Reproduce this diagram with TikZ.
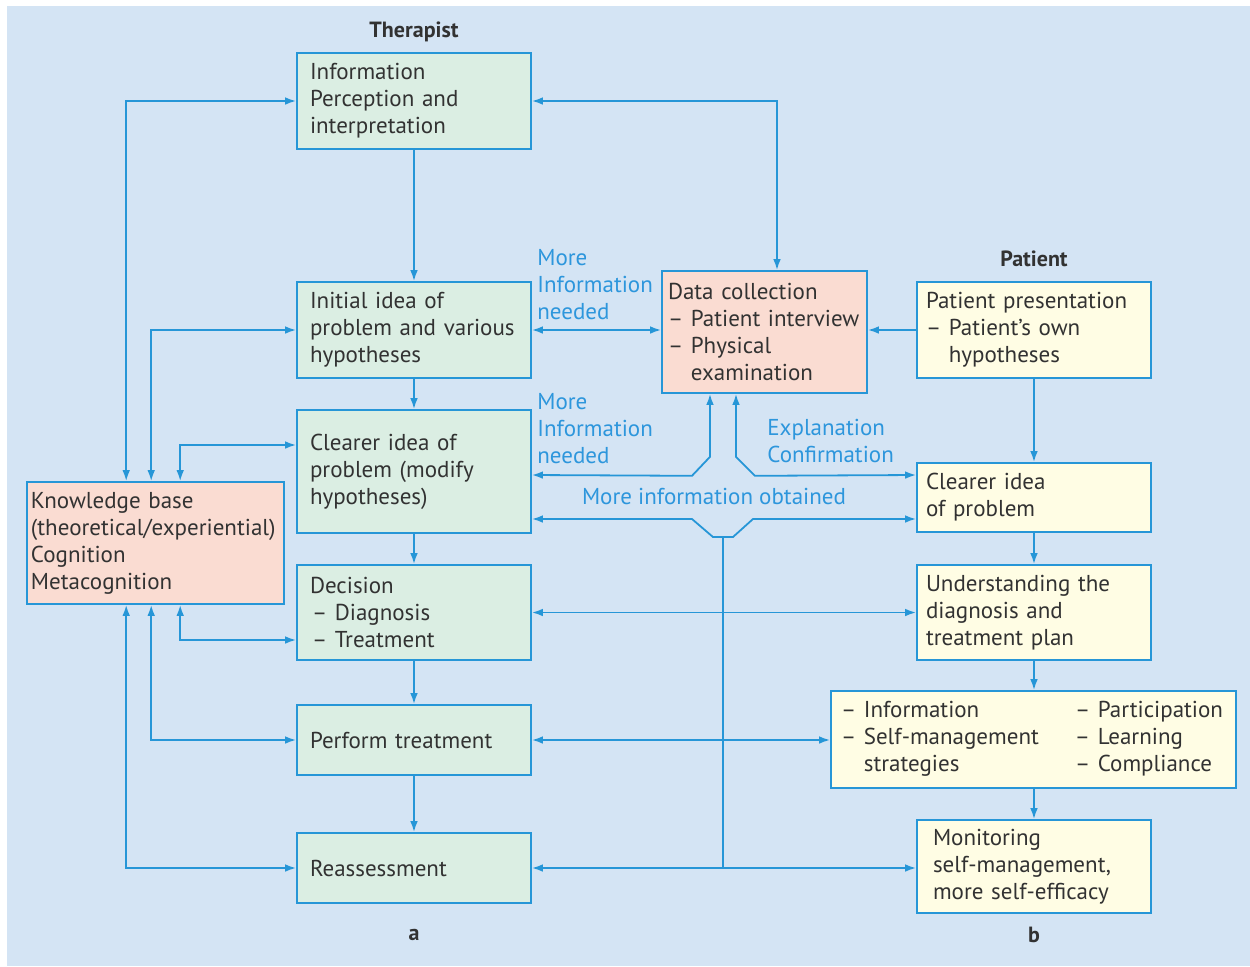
\documentclass[tikz,border=0pt]{standalone}
\usepackage{fontspec}
\setmainfont{PT Sans}
\usepackage{tikz}
\usetikzlibrary{arrows.meta,positioning,calc}

\definecolor{bgblue}{RGB}{212,228,244}
\definecolor{linecol}{RGB}{38,150,215}
\definecolor{lblblue}{RGB}{45,150,220}
\definecolor{thfill}{RGB}{219,238,227}
\definecolor{kbfill}{RGB}{250,220,210}
\definecolor{ptfill}{RGB}{255,253,228}
\definecolor{txtcol}{RGB}{50,50,50}

\begin{document}
\begin{tikzpicture}[x=0.5pt, y=-0.5pt,
  box/.style={rectangle, draw=linecol, line width=0.8pt, align=left, text=txtcol,
    font=\fontsize{11.5}{13.5}\selectfont, inner ysep=2pt},
  thbox/.style={box, fill=thfill, inner xsep=6.5pt, text width=104pt},
  kbbox/.style={box, fill=kbfill},
  ptbox/.style={box, fill=ptfill, inner xsep=4.5pt, text width=108pt},
  lbl/.style={text=lblblue, align=left, inner sep=0pt, font=\fontsize{11.5}{13.5}\selectfont},
  head/.style={text=txtcol, font=\fontsize{11}{13.5}\selectfont\bfseries},
  line/.style={draw=linecol, line width=0.9pt},
  arrow/.style={line, -{Latex[length=5.5pt,width=3.8pt]}},
  biarrow/.style={line, {Latex[length=5.5pt,width=3.8pt]}-{Latex[length=5.5pt,width=3.8pt]}}]

  \useasboundingbox (0,0) rectangle (1250,966);
  \fill[bgblue] (7,6) rectangle (1250,966);

  % therapist column
  \node[head] (ther) at (414,32) {Therapist};
  \node[thbox, minimum height=48pt] (info) at (414,101) {Information\\Perception and\\interpretation};
  \node[thbox, minimum height=48pt] (initial) at (414,330) {Initial idea of\\problem and various\\hypotheses};
  \node[thbox, minimum height=61.5pt] (clearer) at (414,471.5) {Clearer idea of\\problem (modify\\hypotheses)};
  \node[thbox, minimum height=47.5pt] (decision) at (414,612.5) {Decision\\\hspace{1pt}–~Diagnosis\\\hspace{1pt}–~Treatment};
  \node[thbox, minimum height=35pt] (perform) at (414,740) {Perform treatment};
  \node[thbox, minimum height=35pt] (reassess) at (414,868) {Reassessment};
  \node[head] (a) at (414,935) {a};

  \node[kbbox, inner xsep=2pt, text width=124.5pt, minimum height=61pt] (kb) at (155.5,543)
    {Knowledge base\\(theoretical/experiential)\\Cognition\\Metacognition};

  \node[kbbox, inner xsep=3pt, text width=96.5pt, minimum height=61pt] (data) at (764.5,332)
    {Data collection\\\mbox{–~Patient interview}\\–~Physical\\\phantom{–~}examination};

  % patient column
  \node[head] (pat) at (1034,259) {Patient};
  \node[ptbox, minimum height=48pt] (patpres) at (1034,330) {Patient presentation\\–~Patient’s own\\\phantom{–~}hypotheses};
  \node[ptbox, minimum height=34.5pt] (clearerpat) at (1034,497.5) {Clearer idea\\of problem};
  \node[ptbox, minimum height=47.5pt] (understand) at (1034,612.5) {Understanding the\\diagnosis and\\treatment plan};
  \node[box, fill=ptfill, inner xsep=5pt, text width=192.5pt, minimum height=48.5pt] (infolist) at (1033.5,739.5)
    {\begin{tabular}{@{}p{117pt}@{}l@{}}
      –~Information & –~Participation\\
      –~Self-management & –~Learning\\
      \phantom{–~}strategies & –~Compliance
    \end{tabular}};
  \node[ptbox, inner xsep=8pt, text width=101pt, minimum height=46.5pt] (monitor) at (1034,866.5)
    {Monitoring\\self-management,\\more self-efficacy};
  \node[head] (b) at (1034,935) {b};

  % blue labels
  \node[lbl, anchor=north west] (need1) at (537,249) {More\\Information\\needed};
  \node[lbl, anchor=north west] (need2) at (537,393) {More\\Information\\needed};
  \node[lbl, anchor=north west] (expl) at (767,419) {Explanation\\Confirmation};
  \node[lbl] (obtained) at (714,496) {More information obtained};

  % main flow
  \draw[arrow] (info) -- (initial);
  \draw[arrow] (initial) -- (clearer);
  \draw[arrow] (clearer) -- (decision);
  \draw[arrow] (decision) -- (perform);
  \draw[arrow] (perform) -- (reassess);
  \draw[arrow] (patpres) -- (clearerpat);
  \draw[arrow] (clearerpat) -- (understand);
  \draw[arrow] (understand.south) -- (infolist.north -| understand.south);
  \draw[arrow] (infolist.south -| monitor.north) -- (monitor.north);

  % data collection
  \draw[biarrow] (info.east) -| ([xshift=6.25pt]data.north);
  \draw[biarrow] (initial.east) -- (initial.east -| data.west);
  \draw[arrow] (patpres.west) -- (patpres.west -| data.east);
  \draw[biarrow] ([xshift=-27.25pt]data.south) -- ++(0,63) -- ++(-18,19) -- ([yshift=-1.75pt]clearer.east);
  \draw[biarrow] ([xshift=-14.25pt]data.south) -- ++(0,63) -- ++(19,19) -- ([yshift=11.25pt]clearerpat.west);

  % across
  \draw[biarrow] ([yshift=-23.75pt]clearer.east) -- (692,519) -- ++(21,18) -- ++(20,0) -- ++(20,-18)
    -- ([yshift=-10.75pt]clearerpat.west);
  \coordinate (notch) at (723,537);
  \draw[line] (notch) -- (notch |- reassess.east);
  \draw[biarrow] (decision.east) -- (decision.east -| understand.west);
  \draw[biarrow] (perform.east) -- (perform.east -| infolist.west);
  \draw[biarrow] (reassess.east) -- (reassess.east -| monitor.west);

  % knowledge base
  \draw[biarrow] (info.west) -| ([xshift=50pt]kb.north west);
  \draw[biarrow] (initial.west) -| ([xshift=62.5pt]kb.north west);
  \draw[biarrow] ([yshift=13.25pt]clearer.west) -| ([xshift=77pt]kb.north west);
  \draw[biarrow] ([yshift=-13.75pt]decision.west) -| ([xshift=77pt]kb.south west);
  \draw[biarrow] (perform.west) -| ([xshift=62.5pt]kb.south west);
  \draw[biarrow] (reassess.west) -| ([xshift=50pt]kb.south west);
\end{tikzpicture}
\end{document}
